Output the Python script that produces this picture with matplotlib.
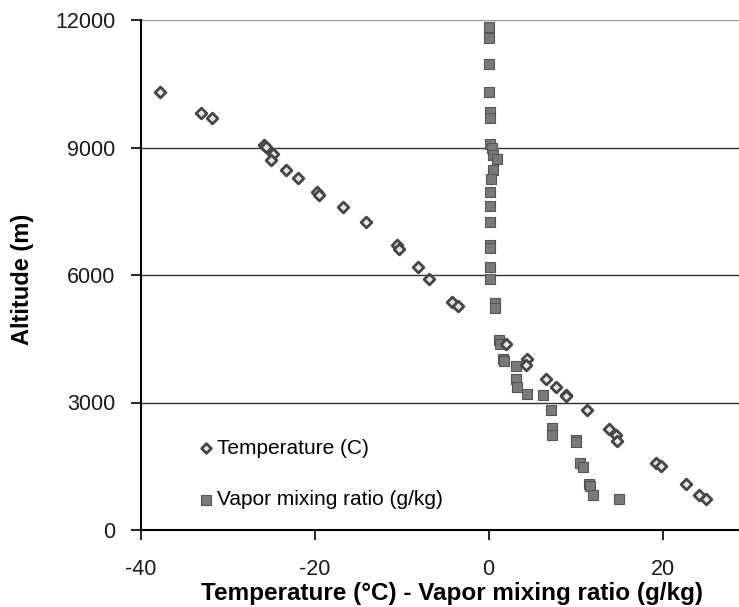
import numpy as np
import matplotlib
matplotlib.use('Agg')
import matplotlib.pyplot as plt

plt.rcParams['font.family'] = ['Liberation Sans', 'DejaVu Sans']
plt.rcParams['axes.unicode_minus'] = False

# temperature profile (C) vs altitude (m)
temp_alt = [10310, 9816, 9690, 9054, 9007, 8852, 8702, 8475, 8271, 7958, 7894,
            7606, 7242, 6701, 6616, 6184, 5911, 5361, 5266, 4388, 4012, 3878,
            3557, 3376, 3188, 3148, 2828, 2381, 2247, 2090, 1565, 1501, 1071,
            819, 734]
temp_val = [-37.8, -33.1, -31.8, -25.9, -25.6, -24.8, -25.0, -23.3, -21.9, -19.8, -19.5,
            -16.8, -14.1, -10.6, -10.3, -8.1, -6.9, -4.25, -3.5, 1.95, 4.45, 4.25,
            6.55, 7.7, 8.85, 8.9, 11.3, 13.8, 14.6, 14.8, 19.2, 19.85, 22.7,
            24.25, 25.05]

# vapor mixing ratio (g/kg) vs altitude (m)
vap_alt = [11840, 11581, 10969, 10311, 9831, 9698, 9071, 8993, 8835, 8718, 8475,
           8264, 7948, 7619, 7242, 6701, 6640, 6184, 5911, 5346, 5228, 4466, 4365,
           4012, 3975, 3855, 3557, 3369, 3204, 3165, 2819, 2405, 2247, 2129, 2066,
           1581, 1487, 1071, 1040, 819, 718]
vap_val = [0.05, 0.05, 0.05, 0.05, 0.1, 0.1, 0.15, 0.42, 0.54, 0.92, 0.5,
           0.3, 0.15, 0.15, 0.15, 0.15, 0.15, 0.2, 0.2, 0.69, 0.69, 1.19, 1.26,
           1.69, 1.75, 3.1, 3.18, 3.3, 4.45, 6.25, 7.2, 7.3, 7.3, 10.0, 10.05,
           10.5, 10.84, 11.5, 11.6, 12.0, 15.05]

x_ticks = [-40, -20, 0, 20]
y_ticks = [0, 3000, 6000, 9000, 12000]

fig = plt.figure(figsize=(7.39, 6.07), dpi=100)
ax = fig.add_axes([141 / 739, 1 - 530 / 607, 1 - 141 / 739, 510 / 607])

for y in y_ticks[1:]:
    ax.axhline(y, color='#9a9a9a' if y == 12000 else '#303030', lw=1.0, zorder=1)

ax.scatter(vap_val, vap_alt, marker='s', s=56, facecolor='#7a7a7a',
           edgecolor='#555555', linewidths=0.8, zorder=3, label='Vapor mixing ratio (g/kg)')
ax.scatter(temp_val, temp_alt, marker='D', s=30, facecolor='#e6e6e6',
           edgecolor='#454545', linewidths=2.0, zorder=4, label='Temperature (C)')

ax.set_xlim(-40, 28.8)
ax.set_ylim(0, 12000)
ax.set_xticks(x_ticks)
ax.set_yticks(y_ticks)
ax.tick_params(axis='both', labelsize=15.5, direction='out', length=7, width=1.2,
               color='black', labelcolor='#1a1a1a')
ax.tick_params(axis='x', pad=14)
ax.tick_params(axis='y', pad=11.5)

for s in ['top', 'right']:
    ax.spines[s].set_visible(False)
ax.spines['left'].set_linewidth(1.5)
ax.spines['bottom'].set_linewidth(1.5)

ax.set_xlabel('Temperature (\u00b0C) - Vapor mixing ratio (g/kg)',
              fontsize=17.5, fontweight='bold')
ax.xaxis.set_label_coords(0.52, -0.102)
ax.set_ylabel('Altitude (m)', fontsize=17, fontweight='bold')
ax.yaxis.set_label_coords(-0.179, 0.492)

handles, labels = ax.get_legend_handles_labels()
ax.legend(handles[::-1], labels[::-1], loc='center left', bbox_to_anchor=(0.09, 0.11),
          frameon=False, fontsize=15, handletextpad=0.0, labelspacing=1.55,
          handlelength=1.05, markerscale=0.9, borderaxespad=0, borderpad=0)

fig.savefig('out.png', dpi=100)
